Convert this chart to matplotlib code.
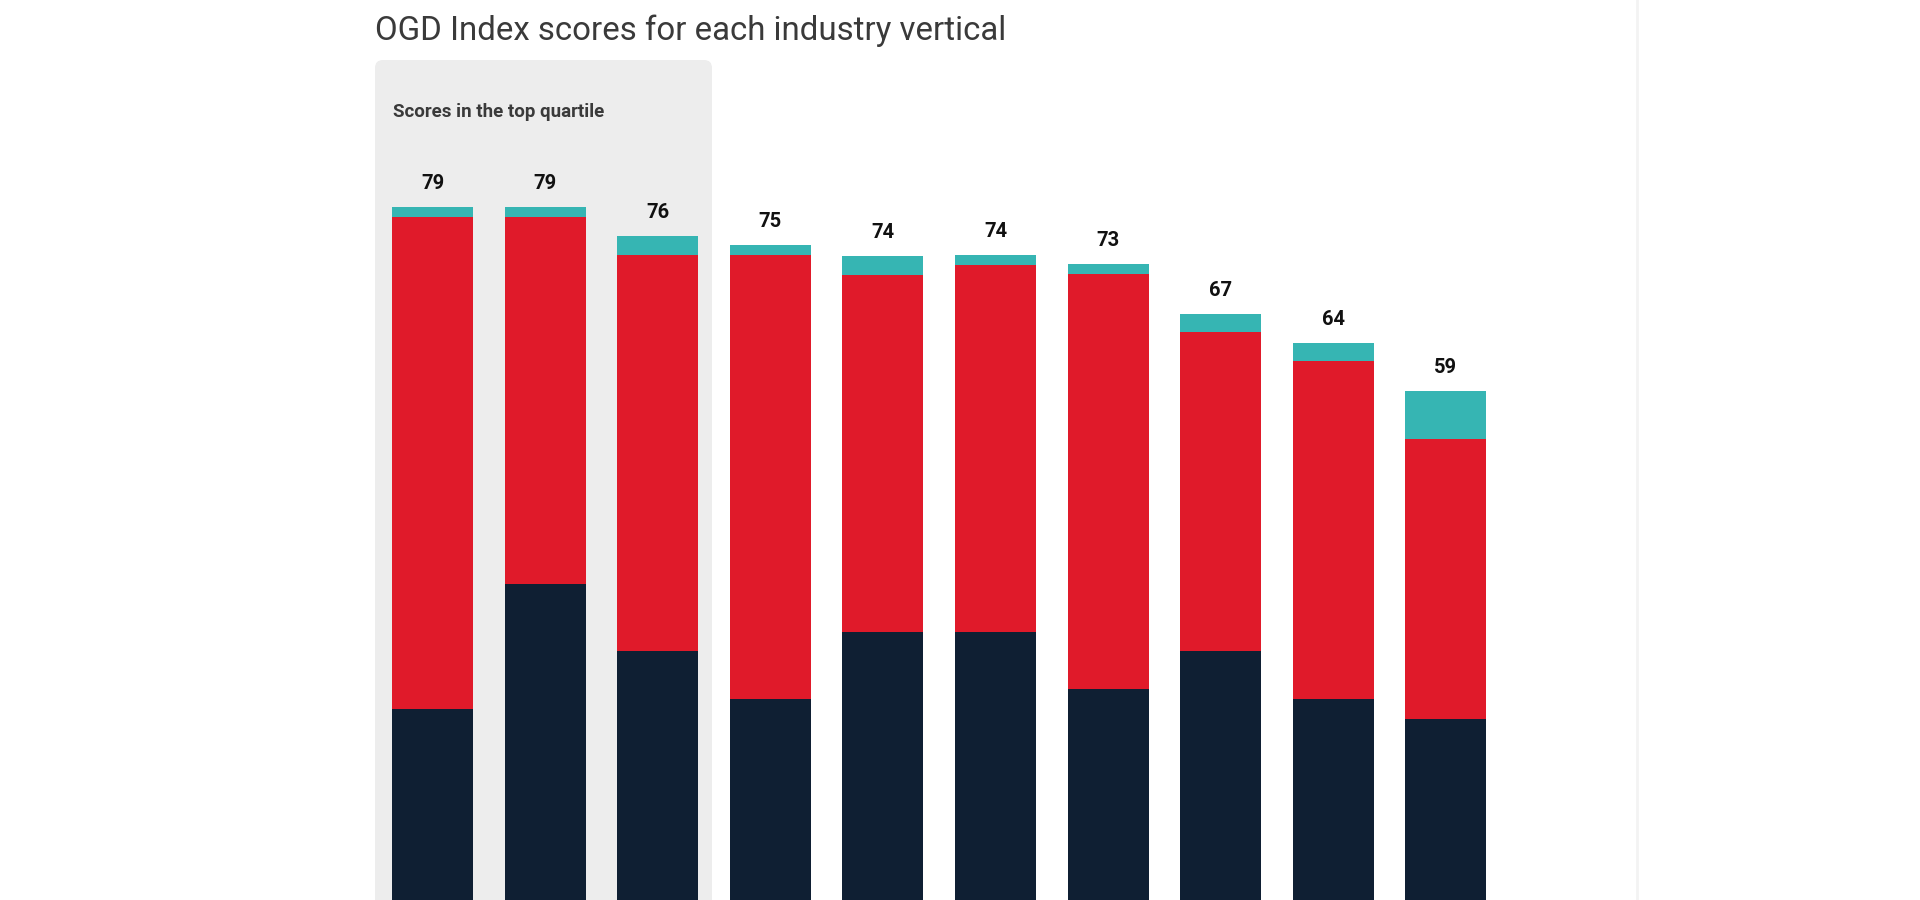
import numpy as np
import matplotlib
matplotlib.use("Agg")
import matplotlib.pyplot as plt
from matplotlib.patches import FancyBboxPatch

# values (score units)
scores = [79, 79, 76, 75, 74, 74, 73, 67, 64, 59]
navy_part = [24.3, 37.9, 30.6, 25.4, 32.7, 32.7, 26.5, 30.6, 25.4, 23.3]
red_part = [53.6, 40.0, 43.2, 48.4, 38.9, 40.0, 45.2, 34.8, 36.8, 30.5]
teal_part = [1.1, 1.1, 2.1, 1.1, 2.1, 1.1, 1.1, 2.0, 2.0, 5.2]

NAVY = '#0f1f33'
RED = '#e01a2a'
TEAL = '#36b5b3'

plt.rcParams['font.family'] = ['Roboto', 'DejaVu Sans']

fig = plt.figure(figsize=(19.2, 9), dpi=100)
fig.patch.set_facecolor('white')

# grey box behind the top quartile (inches)
panel = FancyBboxPatch((3.75, -0.3), 3.37, 9.0 - 0.60 + 0.3,
                       boxstyle="round,pad=0,rounding_size=0.08",
                       transform=fig.dpi_scale_trans, facecolor='#ededed',
                       edgecolor='none', zorder=-2)
fig.patches.append(panel)

# faint separator on the right
fig.add_artist(plt.Line2D([1637 / 1920, 1637 / 1920], [0, 1], color='#f3f3f3',
                          lw=2, transform=fig.transFigure, zorder=-2))

ax = fig.add_axes([0, 0, 1, 1])
ax.set_zorder(1)
ax.patch.set_alpha(0)
x = np.arange(len(scores))
pitch = 112.6
ax.set_xlim(-432.5 / pitch, (1920 - 432.5) / pitch)
k = 9.18
base = 932.4
ax.set_ylim((base - 900) / k, base / k)
ax.axis('off')

w = 81 / pitch
navy = np.array(navy_part)
red = np.array(red_part)
teal = np.array(teal_part)
ax.bar(x, navy, w, color=NAVY, zorder=2)
ax.bar(x, red, w, bottom=navy, color=RED, zorder=2)
ax.bar(x, teal, w, bottom=navy + red, color=TEAL, zorder=2)

for i, s in enumerate(scores):
    ax.annotate(str(s), (x[i], navy[i] + red[i] + teal[i]), xytext=(0, 17),
                textcoords='offset points', ha='center', va='center',
                fontsize=14.5, fontweight='bold', color='#111111')

fig.text(375 / 1920, 1 - 31 / 900, "OGD Index scores for each industry vertical",
         fontsize=23.8, color='#3a3a3a', ha='left', va='center')
fig.text(393 / 1920, 1 - 112 / 900, "Scores in the top quartile",
         fontsize=13.5, fontweight='bold', color='#3a3a3a', ha='left', va='center')

fig.savefig('out.png', dpi=100, facecolor='white')
